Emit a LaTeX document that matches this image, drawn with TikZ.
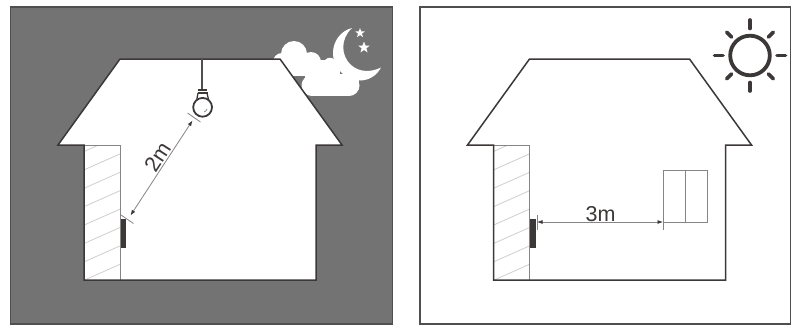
\documentclass[tikz,border=0pt]{standalone}
\usepackage{fontspec}
\setmainfont{Liberation Sans}
\usetikzlibrary{arrows.meta,shapes.geometric}
\definecolor{nightgrey}{HTML}{737373}
\definecolor{framegrey}{HTML}{4F4F4F}
\definecolor{inkdark}{HTML}{3D3838}
\definecolor{hatchgrey}{HTML}{CFCFCF}
\definecolor{thingrey}{HTML}{858585}
\tikzset{
  panelframe/.style={draw=framegrey,line width=1.4pt},
  houseline/.style={draw=inkdark,line width=1.5pt,line join=miter},
  thinline/.style={draw=thingrey,line width=0.8pt},
  hatchline/.style={draw=hatchgrey,line width=0.8pt},
  dimline/.style={draw=thingrey,line width=0.8pt,{Latex[length=5.5pt,width=4pt,color=inkdark]}-{Latex[length=5.5pt,width=4pt,color=inkdark]}},
  ticks/.style={draw=thingrey,line width=0.8pt},
  sensorbar/.style={fill=inkdark},
  dimlabel/.style={text=inkdark,font=\fontsize{21.5}{21.5}\selectfont,inner sep=0pt},
  sunray/.style={draw=inkdark,line width=3.6pt,line cap=round},
  skywhite/.style={fill=white},
  starshape/.style={star,star points=5,star point ratio=2.4,fill=white,inner sep=0pt}
}
\newcommand{\drawhouse}{%
  \path[fill=white] (120,59) -- (280,59) -- (342,145) -- (316,145) -- (316,280) -- (84,280) -- (84,145) -- (58,145) -- cycle;
  \begin{scope}
    \clip (84,145) rectangle (120,280);
    \foreach \k in {0,...,8}{
      \draw[hatchline] (84,151.5+18.4*\k) -- (120,135.5+18.4*\k);
    }
  \end{scope}
  \draw[thinline] (84,145) -- (120,145) -- (120,280);
  \draw[houseline] (120,59) -- (280,59) -- (342,145) -- (316,145) -- (316,280) -- (84,280) -- (84,145) -- (58,145) -- cycle;
  \fill[sensorbar] (120.6,219) rectangle (126.4,248);
}
\begin{document}
\begin{tikzpicture}[x=1pt,y=-1pt]
\useasboundingbox (0,0) rectangle (791,327);
\fill[white] (0,0) rectangle (791,327);
% left panel
\fill[nightgrey] (10.5,7) rectangle (392.5,324);
\draw[panelframe] (10.5,7) rectangle (392.5,324);
% cloud
\path[skywhite] (294,54) circle (13);
\path[skywhite] (282,62) circle (9);
\path[skywhite] (311,62) circle (10);
\path[skywhite] (282,60) rectangle (340,76);
\path[skywhite] (325,60) .. controls (328,57) and (332,57) .. (335,60) -- (335,70) -- (325,70) -- cycle;
\path[skywhite] (312,85.5) circle (10.5);
\path[skywhite] (349,85.5) circle (10.5);
\path[skywhite] (312,74) rectangle (349,96);
\path[skywhite] (305,76) rectangle (359,86);
% moon
\path[skywhite] (352,28) .. controls (340,31) and (333,42) .. (333,53) .. controls (333,69) and (347,81) .. (361,80.5) .. controls (370,80) and (377,75) .. (381,67.5) .. controls (372,72) and (360,73) .. (351,65) .. controls (341,56) and (340,39) .. (352,28) -- cycle;
\node[starshape,minimum size=10pt] (starone) at (360,33) {};
\node[starshape,minimum size=12pt] (startwo) at (364,47.5) {};
\drawhouse
% lamp
\draw[draw=framegrey,line width=1.8pt] (202,59) -- (202,89);
\fill[inkdark] (198,88.5) rectangle (206.5,91);
\draw[inkdark,line width=1.1pt] (197.5,93) -- (207.5,93);
\draw[inkdark,line width=1.3pt] (198,93) -- (196.8,99.5);
\draw[inkdark,line width=1.3pt] (207,93) -- (208.5,99.5);
\draw[inkdark,line width=1.8pt,fill=white] (202.6,107.3) circle (9.4);
\draw[thingrey,line width=0.7pt] (207,109) .. controls (206.5,110.5) and (205.5,111.5) .. (204,112);
% dimension 2m
\coordinate (lamptickA) at (187.5,113);
\coordinate (lamptickB) at (200.5,122);
\coordinate (sensortickA) at (121,215);
\coordinate (sensortickB) at (133.5,223.5);
\coordinate (lampdim) at (192.5,120.5);
\coordinate (sensordim) at (130.5,215.5);
\draw[ticks] (lamptickA) -- (lamptickB);
\draw[ticks] (sensortickA) -- (sensortickB);
\draw[dimline] (lampdim) -- (sensordim);
\node[dimlabel,rotate=57] (labeltwo) at (157.5,156.5) {2m};
% right panel
\draw[panelframe] (420,7) -- (790.3,7) -- (790.3,324) -- (420,324) -- cycle;
\begin{scope}[xshift=409.5pt]
  \drawhouse
\end{scope}
% window
\draw[thinline] (663,170) rectangle (707.5,222);
\draw[thinline] (685,170) -- (685,222);
% dimension 3m
\coordinate (sensortickC) at (537,215);
\coordinate (sensortickD) at (537,230);
\coordinate (windowtickA) at (663,215);
\coordinate (windowtickB) at (663,230);
\coordinate (sensordimr) at (537,222);
\coordinate (windowdimr) at (663,222);
\draw[ticks] (sensortickC) -- (sensortickD);
\draw[ticks] (windowtickA) -- (windowtickB);
\draw[dimline] (sensordimr) -- (windowdimr);
\node[dimlabel,anchor=base] (labelthree) at (600.5,221.3) {3m};
% sun
\draw[inkdark,line width=3.8pt] (750,55.5) circle (19.8);
\foreach \a in {0,90,180,270}{
  \draw[sunray] (750,55.5) ++(\a:27) -- ++(\a:8.5);
}
\foreach \a in {45,135,225,315}{
  \draw[sunray] (750,55.5) ++(\a:26) -- ++(\a:7);
}
\end{tikzpicture}
\end{document}
